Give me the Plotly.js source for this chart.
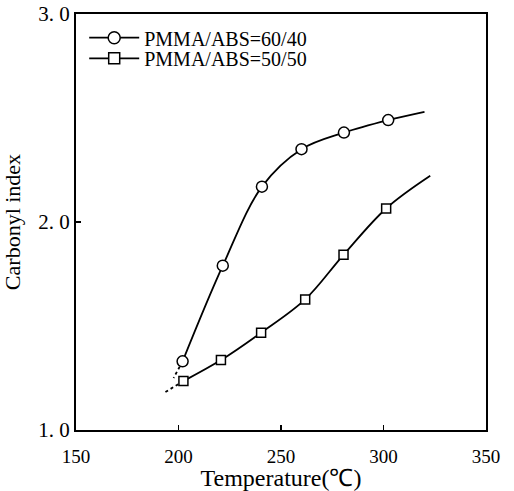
<!DOCTYPE html>
<html>
<head>
<meta charset="utf-8">
<script src="https://cdn.plot.ly/plotly-3.0.1.min.js"></script>
<style>html,body{margin:0;padding:0;background:#fff;}#chart{width:514px;height:491px;}</style>
</head>
<body>
<div id="chart"></div>
<script>
// PMMA/ABS = 60/40 (circles)
var tempA = [202, 221.6, 240.7, 260, 280.7, 302.3];
var ciA = [1.33, 1.79, 2.17, 2.35, 2.43, 2.49];
var endTempA = 320, endCiA = 2.53;
var dotTempA = [202, 197.6];
var dotCiA = [1.33, 1.25];

// PMMA/ABS = 50/50 (squares)
var tempB = [202.4, 220.7, 240.3, 261.8, 280.5, 301.3];
var ciB = [1.235, 1.336, 1.468, 1.628, 1.842, 2.065];
var endTempB = 322.8, endCiB = 2.222;
var dotTempB = [202.4, 193];
var dotCiB = [1.235, 1.179];

var nameA = 'PMMA/ABS=60/40';
var nameB = 'PMMA/ABS=50/50';

var xTickVals = [150, 200, 250, 300, 350];
var xTickText = ['150', '200', '250', '300', '350'];
var yTickVals = [1, 2, 3];
var yTickText = ['1. 0', '2. 0', '3. 0'];

var FONT = 'Liberation Serif, Times New Roman, serif';
var lineStyle = {color: '#000', width: 1.8};

var traces = [
  {x: tempA.concat([endTempA]), y: ciA.concat([endCiA]), mode: 'lines', line: {color: '#000', width: 1.8, shape: 'spline', smoothing: 1}, showlegend: false, hoverinfo: 'skip'},
  {x: dotTempA, y: dotCiA, mode: 'lines', line: {color: '#000', width: 1.8, dash: 'dot'}, showlegend: false},
  {x: tempA, y: ciA, mode: 'markers', marker: {symbol: 'circle', size: 11, color: '#fff', line: {color: '#000', width: 1.5}}, showlegend: false},
  {x: tempB.concat([endTempB]), y: ciB.concat([endCiB]), mode: 'lines', line: {color: '#000', width: 1.8, shape: 'spline', smoothing: 1}, showlegend: false, hoverinfo: 'skip'},
  {x: dotTempB, y: dotCiB, mode: 'lines', line: {color: '#000', width: 1.8, dash: 'dot'}, showlegend: false},
  {x: tempB, y: ciB, mode: 'markers', marker: {symbol: 'square', size: 9, color: '#fff', line: {color: '#000', width: 1.5}}, showlegend: false},
  // legend entries
  {x: [null], y: [null], name: nameA, mode: 'lines+markers', line: lineStyle, marker: {symbol: 'circle', size: 12, color: '#fff', line: {color: '#000', width: 1.5}}, legend: 'legend'},
  {x: [null], y: [null], name: nameB, mode: 'lines+markers', line: lineStyle, marker: {symbol: 'square', size: 11, color: '#fff', line: {color: '#000', width: 1.5}}, legend: 'legend2'}
];

var legendBase = {bgcolor: 'rgba(0,0,0,0)', borderwidth: 0, font: {family: FONT, size: 20, color: '#000'}, xanchor: 'left', yanchor: 'middle', itemwidth: 50};

var layout = {
  width: 514, height: 491,
  margin: {l: 76, r: 28, t: 14, b: 61},
  paper_bgcolor: '#fff', plot_bgcolor: '#fff',
  font: {family: FONT, color: '#000'},
  showlegend: true,
  legend: Object.assign({}, legendBase, {x: 0.02, y: 0.943}),
  legend2: Object.assign({}, legendBase, {x: 0.02, y: 0.8935}),
  xaxis: {
    range: [150, 350], tickvals: xTickVals, ticktext: xTickText,
    ticks: 'inside', ticklen: 5, tickwidth: 1.5, tickcolor: '#000',
    showline: true, linewidth: 2, linecolor: '#000', mirror: true,
    showgrid: false, zeroline: false,
    tickfont: {family: FONT, size: 19, color: '#000'},
    ticklabelstandoff: 8,
    title: {text: 'Temperature(℃)', font: {family: FONT, size: 24, color: '#000'}, standoff: 2}
  },
  yaxis: {
    range: [1, 3], tickvals: yTickVals, ticktext: yTickText,
    ticks: 'inside', ticklen: 5, tickwidth: 1.5, tickcolor: '#000',
    showline: true, linewidth: 2, linecolor: '#000', mirror: true,
    showgrid: false, zeroline: false,
    tickfont: {family: FONT, size: 21, color: '#000'},
    title: {text: 'Carbonyl index\u00a0\u00a0\u00a0\u00a0', font: {family: FONT, size: 22, color: '#000'}, standoff: 12}
  }
};

Plotly.newPlot('chart', traces, layout, {displayModeBar: false, staticPlot: true});
</script>
</body>
</html>
